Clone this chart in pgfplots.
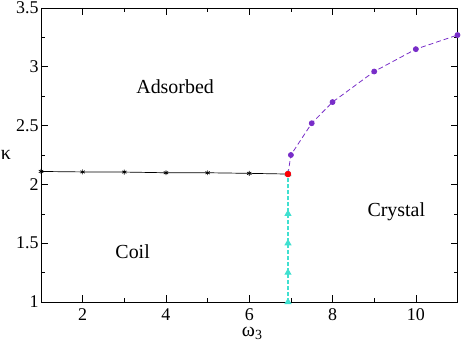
\documentclass[border=0pt]{standalone}
\usepackage{pgfplots}
\pgfplotsset{compat=1.18}
\usepackage{fontspec}
\setmainfont{Liberation Serif}
\definecolor{purp}{RGB}{120,45,200}
\definecolor{cyn}{RGB}{64,224,208}
\begin{document}
\begin{tikzpicture}[font=\fontsize{20}{24}\selectfont]
\begin{axis}[
  scale only axis, width=416.5bp, height=294bp,
  xmin=1, xmax=11, ymin=1, ymax=3.5,
  xtick={2,4,6,8,10}, minor xtick={1,3,5,7,9,11},
  ytick={1,1.5,2,2.5,3,3.5}, minor ytick={1.25,1.75,2.25,2.75,3.25},
  tick align=inside, ticks=both,
  major tick length=7bp, minor tick length=4bp,
  tick style={black, line width=0.6pt},
  axis line style={line width=0.8pt},
  /pgf/number format/assume math mode=true,
  ticklabel style={font=\fontsize{18}{21}\selectfont},
  xticklabel style={inner sep=1bp, yshift=-5bp},
  yticklabel style={/pgf/number format/fixed, xshift=1bp},
  xlabel={ω\textsubscript{3}}, ylabel={κ},
  every axis x label/.style={at={(axis description cs:0.5,0)}, anchor=base, inner sep=0pt, yshift=-34bp, xshift=3bp},
  every axis y label/.style={at={(axis description cs:0,0.5)}, anchor=center, xshift=-35bp},
  label style={font=\fontsize{20}{24}\selectfont},
  clip=false,
]
\addplot[black, line width=0.7pt, mark=asterisk, mark size=2.5pt] coordinates {
 (1,2.11) (2,2.106) (3,2.105) (4,2.099) (5,2.099) (6,2.094) (6.93,2.088)};
\addplot[cyn, line width=1.2pt, dash pattern=on 4pt off 2pt, mark=triangle*, mark size=3pt, mark options={solid}] coordinates {
 (6.93,1.0) (6.93,1.25) (6.93,1.5) (6.93,1.75) (6.93,2.088)};
\addplot[purp, line width=0.8pt, dash pattern=on 5pt off 3pt, mark=*, mark size=2.5pt, mark options={solid}] coordinates {
 (6.93,2.088) (7,2.25) (7.5,2.52) (8,2.70) (9,2.96) (10,3.15) (11,3.27)};
\addplot[red, only marks, mark=*, mark size=3pt] coordinates {(6.93,2.088)};
\node at (axis cs:4.22,2.83) {Adsorbed};
\node at (axis cs:3.2,1.43) {Coil};
\node at (axis cs:9.53,1.77) {Crystal};
\end{axis}
\pgfresetboundingbox
\path (-41bp,-39bp) rectangle (422bp,302bp);
\end{tikzpicture}
\end{document}
